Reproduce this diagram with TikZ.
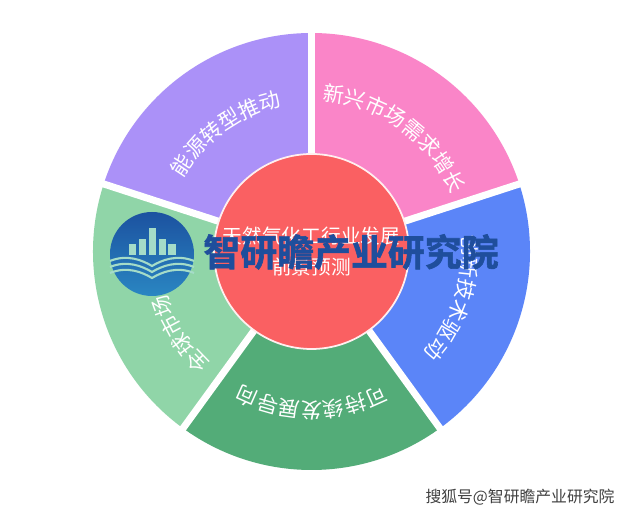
\documentclass[tikz,border=0pt]{standalone}
\usepackage{fontspec}
\setmainfont{Noto Sans CJK SC}
\newfontfamily\boldcjk[FakeBold=1.6]{Noto Sans CJK SC Bold}
\usetikzlibrary{decorations.text}
\definecolor{sectpurple}{HTML}{AB91F8}
\definecolor{sectpink}{HTML}{FA85C8}
\definecolor{sectblue}{HTML}{5B85F8}
\definecolor{sectgreen}{HTML}{53AC78}
\definecolor{sectmint}{HTML}{90D5A8}
\definecolor{hubred}{HTML}{FA6062}
\definecolor{markblue}{HTML}{1F4E9C}
\definecolor{logotop}{HTML}{1C52A0}
\definecolor{logobottom}{HTML}{2A86C2}
\definecolor{wavemint}{HTML}{A5DCC8}
\tikzset{
	gapline/.style={white,line width=4pt},
	hubtext/.style={text=white,font=\fontsize{11.2pt}{17.6pt}\selectfont,inner sep=0pt},
	marktext/.style={text=markblue,font=\boldcjk\fontsize{21pt}{23pt}\selectfont,inner sep=0pt},
	sourcetext/.style={text=black!75,font=\fontsize{9pt}{11pt}\selectfont,inner sep=0pt},
	wave/.style={wavemint,line width=1.2pt}
}
\newcommand{\arclabel}[4]{\path[decorate,decoration={text along path,text align=center,text={|\fontsize{12pt}{14pt}\selectfont\color{white}|#1}}] (#2:#4) arc[start angle=#2,end angle=#3,radius=#4];}
\begin{document}
\begin{tikzpicture}
	\useasboundingbox[fill=white] (0,0) rectangle (12.52,10.28);
	\begin{scope}[shift={(6.23,5.25)}]
		\foreach \a/\c in {90/sectpink,18/sectblue,-54/sectgreen,-126/sectmint,162/sectpurple}
			\fill[\c] (0,0) -- (\a:4.37) arc[start angle=\a,delta angle=-72,radius=4.37] -- cycle;
		\foreach \a in {90,18,-54,-126,162}
			\draw[gapline] (0,0) -- (\a:4.5);
		\arclabel{能源转型推动}{162}{90}{2.96}
		\arclabel{新兴市场需求增长}{90}{18}{3.02}
		\arclabel{创新技术驱动}{18}{-54}{3.02}
		\arclabel{可持续发展导向}{-54}{-126}{3.02}
		\arclabel{全球市场拓展}{-120}{-192}{3.02}
		\draw[fill=hubred,draw=white!90!hubred,line width=1pt] (0,0) circle (1.95);
		\node[hubtext,align=center] (hubtitle) at (0,0) {天然气化工行业发展\\前景预测};
	\end{scope}
	% watermark
	\begin{scope}[shift={(3.04,5.2)}]
		\shade[top color=logotop,bottom color=logobottom] (0,0) circle (0.84);
		\fill[wavemint] (-0.07,-0.02) rectangle (0.07,0.52);
		\foreach \x/\h in {-0.4/0.2,-0.2/0.3,0.2/0.3,0.4/0.2}
			\fill[wavemint] (\x-0.07,-0.02) rectangle (\x+0.07,\h);
		\foreach \y in {-0.14,-0.26,-0.38}
			\draw[wave] (-0.84,\y) .. controls (-0.5,\y+0.14) and (-0.2,\y+0.02) .. (0,\y-0.1) .. controls (0.2,\y+0.02) and (0.5,\y+0.14) .. (0.84,\y);
	\end{scope}
	\node[marktext] (mark) at (7.02,5.24) {智研瞻产业研究院};
	\node[sourcetext] (source) at (10.4,0.34) {搜狐号@智研瞻产业研究院};
\end{tikzpicture}
\end{document}
